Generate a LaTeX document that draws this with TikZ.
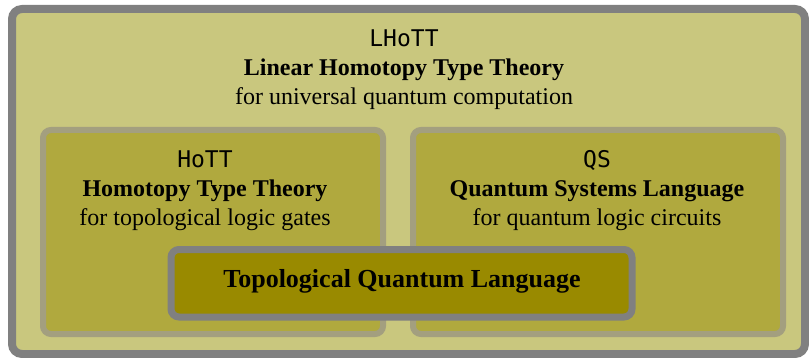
\documentclass[tikz,border=0pt]{standalone}
\usepackage{fontspec}
\setmainfont{Liberation Serif}
\setmonofont{DejaVu Sans Mono}
\usepackage{tikz}

\definecolor{outerfill}{RGB}{201,199,126}
\definecolor{innerfill}{RGB}{176,169,62}
\definecolor{innerline}{RGB}{163,159,127}
\definecolor{corefill}{RGB}{153,138,0}
\definecolor{boxline}{RGB}{128,128,128}

\newcommand{\codename}[1]{{\ttfamily\fontsize{11.5}{14.5}\selectfont #1}}

\tikzset{
  outerbox/.style={draw=boxline, fill=outerfill, line width=4pt, rounded corners=5pt},
  innerbox/.style={draw=innerline, fill=innerfill, line width=3pt, rounded corners=4pt},
  corebox/.style={draw=boxline, fill=corefill, line width=3.5pt, rounded corners=4pt},
  label/.style={align=center, inner sep=0pt, font=\fontsize{12}{14.5}\selectfont},
}

\begin{document}
\begin{tikzpicture}[x=0.5pt, y=-0.5pt]
  \useasboundingbox (0,0) rectangle (809,358);

  \draw[outerbox] (12,9) rectangle (805,354);
  \draw[innerbox] (43,130) rectangle (383,334);
  \draw[innerbox] (413,130) rectangle (783,334);
  \draw[corebox] (171,249.5) rectangle (632,317);

  \node[label] (lhott) at (404,70)
    {\codename{LHoTT}\\
     \textbf{Linear Homotopy Type Theory}\\
     for universal quantum computation};
  \node[label] (hott) at (205,191)
    {\codename{HoTT}\\
     \textbf{Homotopy Type Theory}\\
     for topological logic gates};
  \node[label] (qs) at (597,191)
    {\codename{QS}\\
     \textbf{Quantum Systems Language}\\
     for quantum logic circuits};
  \node[label, font=\bfseries\fontsize{13}{14.5}\selectfont] (tql) at (402,281)
    {Topological Quantum Language};
\end{tikzpicture}
\end{document}
